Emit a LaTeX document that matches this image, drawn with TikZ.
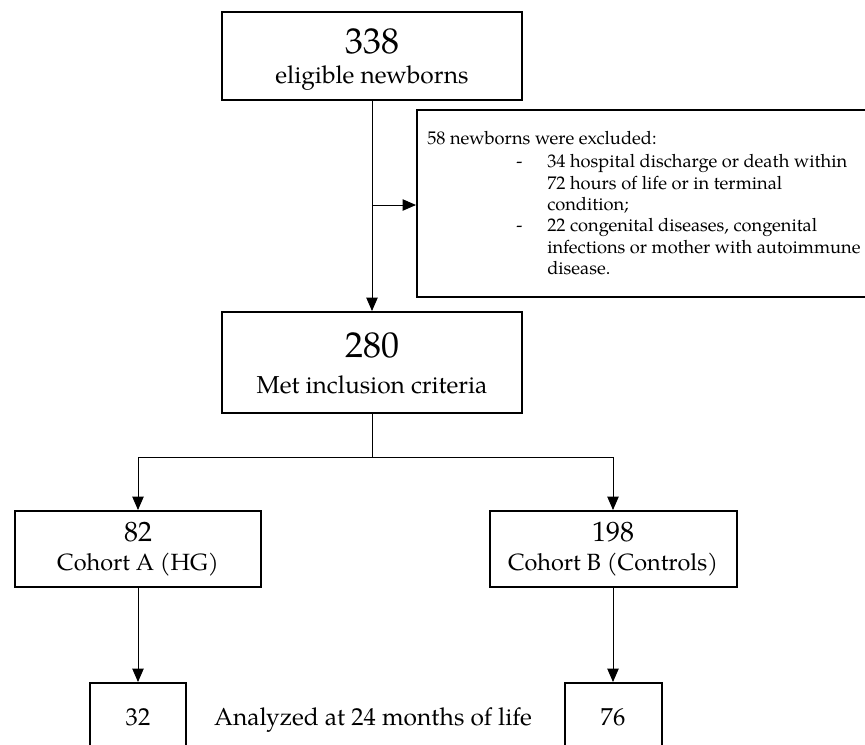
\documentclass[tikz,border=0pt]{standalone}
\usepackage{fontspec}
\setmainfont{TeX Gyre Pagella}
\usetikzlibrary{arrows.meta}
\tikzset{
  box/.style={draw, line width=1.5pt, inner sep=0pt, fill=none},
  conn/.style={line width=0.7pt},
  arr/.style={conn, -{Triangle[length=10pt,width=8.5pt]}},
  big/.style={anchor=base, inner sep=0pt, font=\fontsize{27}{30}\selectfont},
  mid/.style={anchor=base, inner sep=0pt, font=\fontsize{21}{24}\selectfont},
  lab/.style={anchor=base, inner sep=0pt, font=\fontsize{18.4}{22}\selectfont},
  coh/.style={anchor=base, inner sep=0pt, font=\fontsize{17.6}{21}\selectfont},
  small/.style={anchor=base west, inner sep=0pt, font=\fontsize{13.7}{16}\selectfont},
}
\begin{document}
\begin{tikzpicture}[x=0.75pt,y=-0.75pt]
\useasboundingbox (0,0) rectangle (865,744);
\clip (0,0) rectangle (865,744);
% boxes
\node[box, minimum width=225pt, minimum height=66pt] (top) at (372,56) {};
\node[box, minimum width=225pt, minimum height=75.75pt] (b280) at (372,362.5) {};
\node[box, minimum width=339.75pt, minimum height=140.25pt] (excl) at (643.5,203.5) {};
\node[box, minimum width=184.5pt, minimum height=57pt] (b82) at (138,549) {};
\node[box, minimum width=185.25pt, minimum height=57pt] (b198) at (613,549) {};
\node[box, minimum width=72pt, minimum height=80.25pt] (b32) at (138,736.5) {};
\node[box, minimum width=72.75pt, minimum height=80.25pt] (b76) at (613,736.5) {};
% texts
\node[big] (t338) at (372,53.5) {338};
\node[lab] (telig) at (372,83) {eligible newborns};
\node[big] (t280) at (372,357) {280};
\node[lab] (tmet) at (372,393) {Met inclusion criteria};
\node[mid] (t82) at (138,541) {82};
\node[coh] (tca) at (138,570) {Cohort A (HG)};
\node[mid] (t198) at (613,541) {198};
\node[coh] (tcb) at (613,570) {Cohort B (Controls)};
\node[lab] (t32) at (138,725) {32};
\node[lab] (t76) at (613,725) {76};
\node[lab] (tan) at (373,725) {Analyzed at 24 months of life};
% exclusion text
\node[small] (e1) at (427,144) {58 newborns were excluded:};
\node[small] (d1) at (516,167) {-};
\node[small] (e2) at (547,167) {34 hospital discharge or death within};
\node[small] (e3) at (547,189) {72 hours of life or in terminal};
\node[small] (e4) at (547,210) {condition;};
\node[small] (d2) at (516,231) {-};
\node[small] (e5) at (547,231) {22 congenital diseases, congenital};
\node[small] (e6) at (547,253) {infections or mother with autoimmune};
\node[small] (e7) at (547,274) {disease.};
% connectors
\draw[arr] (top.south) -- (b280.north);
\coordinate (j1) at (372,205);
\draw[arr] (j1) -- (j1 -| excl.west);
\coordinate (hub) at (372,457);
\draw[conn] (b280.south) -- (hub);
\draw[arr] (hub) -| (b82.north);
\draw[arr] (hub) -| (b198.north);
\draw[arr] (b82.south) -- (b32.north);
\draw[arr] (b198.south) -- (b76.north);
\end{tikzpicture}
\end{document}
